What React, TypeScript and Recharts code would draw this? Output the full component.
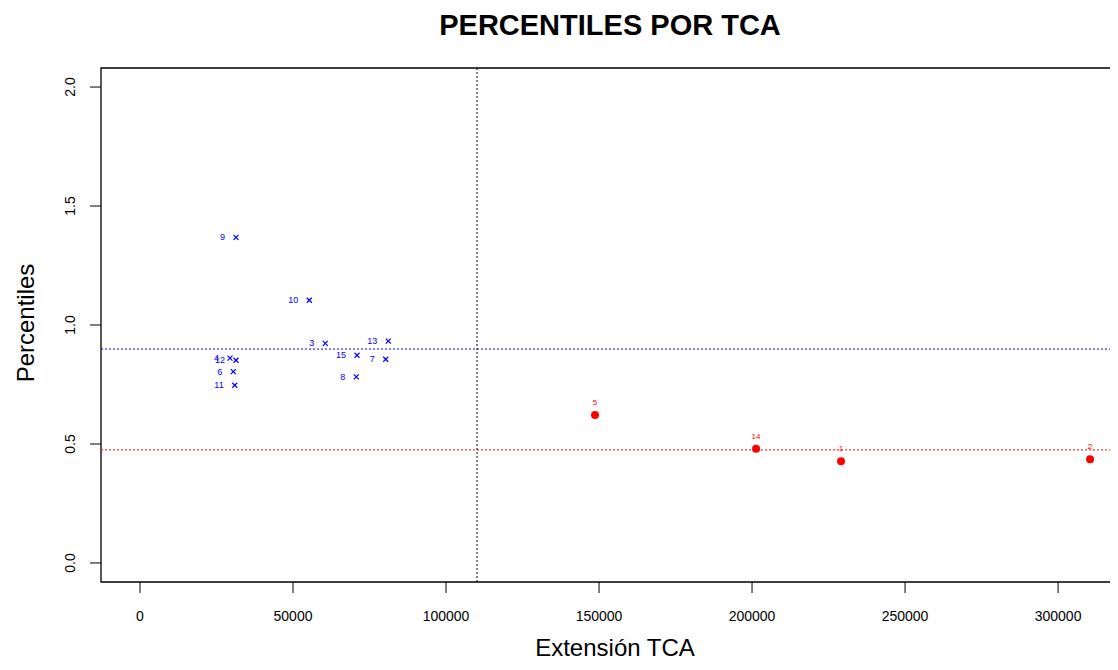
import React from 'react';
import { ScatterChart, Scatter, XAxis, YAxis, ReferenceLine, ReferenceArea } from 'recharts';

const blueIds = ['9', '10', '3', '13', '4', '12', '15', '7', '6', '8', '11'];
const blueExt = [31370, 55330, 60560, 81140, 29410, 31370, 70920, 80290, 30490, 70690, 30950];
const bluePct = [1.368, 1.104, 0.923, 0.932, 0.861, 0.852, 0.873, 0.856, 0.804, 0.782, 0.747];

const redIds = ['5', '14', '1', '2'];
const redExt = [148690, 201310, 229080, 310460];
const redPct = [0.622, 0.48, 0.427, 0.436];

const xTicks = [0, 50000, 100000, 150000, 200000, 250000, 300000];
const yTicks = [0, 0.5, 1, 1.5, 2];
const yTickLabels = ['0.0', '0.5', '1.0', '1.5', '2.0'];

const bluePctLine = 0.899;
const redPctLine = 0.475;
const extCut = 110130;

const xDomain: [number, number] = [-12745, 331350];
const yDomain: [number, number] = [-0.08, 2.08];

const blueData = blueIds.map((id, i) => ({ id, ext: blueExt[i], pct: bluePct[i] }));
const redData = redIds.map((id, i) => ({ id, ext: redExt[i], pct: redPct[i] }));

const FONT = '"Liberation Sans", Arial, Helvetica, sans-serif';
const BLUE = '#0000FF';
const RED = '#FF0000';

const BlueMark = (props: any) => {
  const { cx, cy, payload } = props;
  if (cx == null || cy == null) return null;
  const s = 2.5;
  return (
    <g>
      <line x1={cx - s} y1={cy - s} x2={cx + s} y2={cy + s} stroke={BLUE} strokeWidth={1.2} />
      <line x1={cx - s} y1={cy + s} x2={cx + s} y2={cy - s} stroke={BLUE} strokeWidth={1.2} />
      <text x={cx - 11} y={cy + 3} textAnchor="end" fontSize={9} fill={BLUE} fontFamily={FONT}>
        {payload.id}
      </text>
    </g>
  );
};

const RedMark = (props: any) => {
  const { cx, cy, payload } = props;
  if (cx == null || cy == null) return null;
  return (
    <g>
      <circle cx={cx} cy={cy} r={4} fill={RED} />
      <text x={cx} y={cy - 10} textAnchor="middle" fontSize={8} fill={RED} fontFamily={FONT}>
        {payload.id}
      </text>
    </g>
  );
};

const XTick = (props: any) => {
  const { x, y, payload } = props;
  return (
    <text x={x} y={y + 26} textAnchor="middle" fontSize={14} fill="#000" fontFamily={FONT}>
      {String(payload.value)}
    </text>
  );
};

const YTick = (props: any) => {
  const { x, y, payload } = props;
  const idx = yTicks.indexOf(payload.value);
  const bx = x - 13;
  return (
    <text
      x={bx}
      y={y}
      transform={`rotate(-90, ${bx}, ${y})`}
      textAnchor="middle"
      fontSize={14}
      fill="#000"
      fontFamily={FONT}
    >
      {idx >= 0 ? yTickLabels[idx] : String(payload.value)}
    </text>
  );
};

export default function App() {
  return (
    <div style={{ position: 'relative', width: 1110, height: 654, overflow: 'hidden', background: '#fff' }}>
      <ScatterChart
        width={1152}
        height={654}
        margin={{ top: 60, right: 6, bottom: 0, left: 0 }}
      >
        <XAxis
          type="number"
          dataKey="ext"
          domain={xDomain}
          allowDataOverflow
          ticks={xTicks}
          interval={0}
          height={80}
          tickSize={11}
          axisLine={false}
          tickLine={{ stroke: '#000', strokeWidth: 1 }}
          tick={<XTick />}
        />
        <YAxis
          type="number"
          dataKey="pct"
          domain={yDomain}
          allowDataOverflow
          ticks={yTicks}
          interval={0}
          width={93}
          tickSize={11}
          axisLine={false}
          tickLine={{ stroke: '#000', strokeWidth: 1 }}
          tick={<YTick />}
        />
        <ReferenceArea
          x1={xDomain[0]}
          x2={xDomain[1]}
          y1={yDomain[0]}
          y2={yDomain[1]}
          fill="none"
          fillOpacity={0}
          stroke="#000"
          strokeWidth={1.3}
          ifOverflow="visible"
        />
        <ReferenceLine y={bluePctLine} stroke={BLUE} strokeWidth={1} strokeDasharray="2 2" />
        <ReferenceLine y={redPctLine} stroke={RED} strokeWidth={1} strokeDasharray="2 2" />
        <ReferenceLine x={extCut} stroke="#000" strokeWidth={1} strokeDasharray="2 2" />
        <Scatter data={blueData} shape={<BlueMark />} isAnimationActive={false} />
        <Scatter data={redData} shape={<RedMark />} isAnimationActive={false} />
      </ScatterChart>
      <svg
        width={1110}
        height={654}
        style={{ position: 'absolute', left: 0, top: 0, pointerEvents: 'none' }}
      >
        <text x={602} y={27} textAnchor="middle" fontSize={29} fontWeight="bold" fill="#000" fontFamily={FONT}>
          PERCENTILES POR TCA
        </text>
        <text x={607} y={648} textAnchor="middle" fontSize={24} fill="#000" fontFamily={FONT}>
          Extensión TCA
        </text>
        <text
          x={26}
          y={315}
          transform="rotate(-90, 26, 315)"
          textAnchor="middle"
          fontSize={24}
          fill="#000"
          fontFamily={FONT}
        >
          Percentiles
        </text>
      </svg>
    </div>
  );
}
